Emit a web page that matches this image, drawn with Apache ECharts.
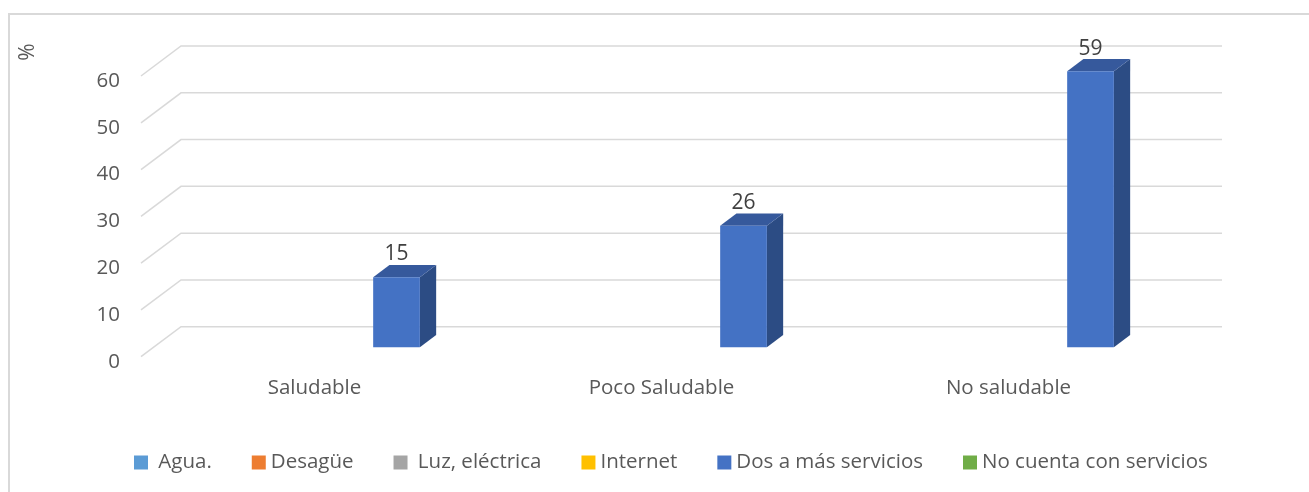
<!DOCTYPE html>
<html>

<head>
    <meta charset="utf-8" />
    <style type="text/css">
        html,
        body {
            margin: 0;
            padding: 0;
            background: #fff;
        }

        #main {
            width: 1309px;
            height: 492px;
        }
    </style>
    <script src="https://cdn.jsdelivr.net/npm/echarts@6/dist/echarts.min.js"></script>
</head>

<body>
    <div id="main"></div>
    <script type="text/javascript">
        // 数据
        var categories = ["Saludable", "Poco Saludable", "No saludable"];
        var yTicks = [0, 10, 20, 30, 40, 50, 60];
        var agua = [];
        var desague = [];
        var luz = [];
        var internet = [];
        var dosServicios = [15, 26, 59];
        var sinServicios = [];

        var seriesNames = [" Agua.", "Desagüe", " Luz, eléctrica", "Internet", "Dos a más servicios", "No cuenta con servicios"];
        var seriesColors = ["#5B9BD5", "#ED7D31", "#A5A5A5", "#FFC000", "#4472C4", "#70AD47"];
        var seriesValues = [agua, desague, luz, internet, dosServicios, sinServicios];

        // 3D 效果参数
        var DEPTH_X = 40;
        var DEPTH_Y = -30;
        var BAR_FRONT = 0.313;
        var BAR_BACK = 0.72;
        var BAR_OFFSET = 0.633;
        var BAR_WIDTH = 0.1346;
        var FONT = "'Open Sans', sans-serif";

        var myChart = echarts.init(document.getElementById("main"));

        // 背景墙网格线
        function renderWall(params, api) {
            var cs = params.coordSys;
            var y = api.coord([0, api.value(1)])[1];
            return {
                type: "polyline",
                shape: {
                    points: [
                        [cs.x, y],
                        [cs.x + DEPTH_X, y + DEPTH_Y],
                        [cs.x + cs.width + DEPTH_X, y + DEPTH_Y]
                    ]
                },
                style: { stroke: "#d9d9d9", lineWidth: 1.5, fill: null },
                silent: true
            };
        }

        // 立体柱
        function renderBar(params, api) {
            var band = api.size([1, 0])[0];
            var center = api.coord([api.value(0), 0]);
            var top = api.coord([api.value(0), api.value(1)]);
            var bandLeft = center[0] - band / 2;
            var x0 = bandLeft + BAR_OFFSET * band + BAR_FRONT * DEPTH_X;
            var x1 = x0 + BAR_WIDTH * band;
            var yBot = center[1] + BAR_FRONT * DEPTH_Y;
            var yTop = top[1] + BAR_FRONT * DEPTH_Y;
            var ddx = (BAR_BACK - BAR_FRONT) * DEPTH_X;
            var ddy = (BAR_BACK - BAR_FRONT) * DEPTH_Y;
            return {
                type: "group",
                children: [
                    {
                        type: "polygon",
                        shape: { points: [[x1, yTop], [x1 + ddx, yTop + ddy], [x1 + ddx, yBot + ddy], [x1, yBot]] },
                        style: { fill: "#2C4C84" }
                    },
                    {
                        type: "polygon",
                        shape: { points: [[x0, yTop], [x1, yTop], [x1 + ddx, yTop + ddy], [x0 + ddx, yTop + ddy]] },
                        style: { fill: "#36599C" }
                    },
                    {
                        type: "rect",
                        shape: { x: x0, y: yTop, width: x1 - x0, height: yBot - yTop },
                        style: { fill: "#4472C4" }
                    },
                    {
                        type: "text",
                        x: (x0 + x1) / 2,
                        y: yTop + ddy,
                        style: {
                            text: String(api.value(1)),
                            align: "center",
                            verticalAlign: "bottom",
                            fill: "#404040",
                            font: "21px " + FONT
                        }
                    }
                ]
            };
        }

        var series = [
            {
                name: "walls",
                type: "custom",
                renderItem: renderWall,
                data: yTicks.map(function (t) { return [0, t]; }),
                z: 1,
                silent: true
            }
        ];
        seriesNames.forEach(function (name, i) {
            series.push({
                name: name,
                type: "custom",
                renderItem: renderBar,
                itemStyle: { color: seriesColors[i] },
                data: seriesValues[i].map(function (v, j) { return [j, v]; }),
                z: 2
            });
        });

        var option = {
            animation: false,
            backgroundColor: "#fff",
            textStyle: { fontFamily: FONT },
            graphic: [
                {
                    type: "polyline",
                    shape: { points: [[9, 500], [9, 14], [1320, 14]] },
                    style: { stroke: "#d9d9d9", lineWidth: 2, fill: null },
                    silent: true
                },
                {
                    type: "text",
                    x: 28.5,
                    y: 52,
                    rotation: Math.PI / 2,
                    style: {
                        text: "%",
                        align: "center",
                        verticalAlign: "middle",
                        fill: "#595959",
                        font: "21px " + FONT
                    }
                }
            ],
            grid: {
                left: 141,
                top: 76,
                width: 1041,
                height: 280.7
            },
            legend: {
                data: seriesNames.map(function (n, i) {
                    return { name: n, icon: "rect", itemStyle: { color: seriesColors[i] } };
                }),
                left: 134,
                top: 452,
                itemWidth: 14,
                itemHeight: 14,
                itemGap: 40,
                padding: 0,
                textStyle: { color: "#595959", fontSize: 20.5, fontFamily: FONT }
            },
            xAxis: {
                type: "category",
                data: categories,
                axisLine: { show: false },
                axisTick: { show: false },
                splitLine: { show: false },
                axisLabel: { margin: 21, color: "#595959", fontSize: 20.5, fontFamily: FONT }
            },
            yAxis: {
                type: "value",
                min: 0,
                max: 60,
                interval: 10,
                axisLine: { show: false },
                axisTick: { show: false },
                splitLine: { show: false },
                axisLabel: {
                    margin: 21,
                    formatter: "{a|{value}}",
                    rich: {
                        a: { padding: [10, 0, 0, 0], color: "#595959", fontSize: 20.5, fontFamily: FONT }
                    }
                }
            },
            series: series
        };

        myChart.setOption(option);
    </script>
</body>

</html>
